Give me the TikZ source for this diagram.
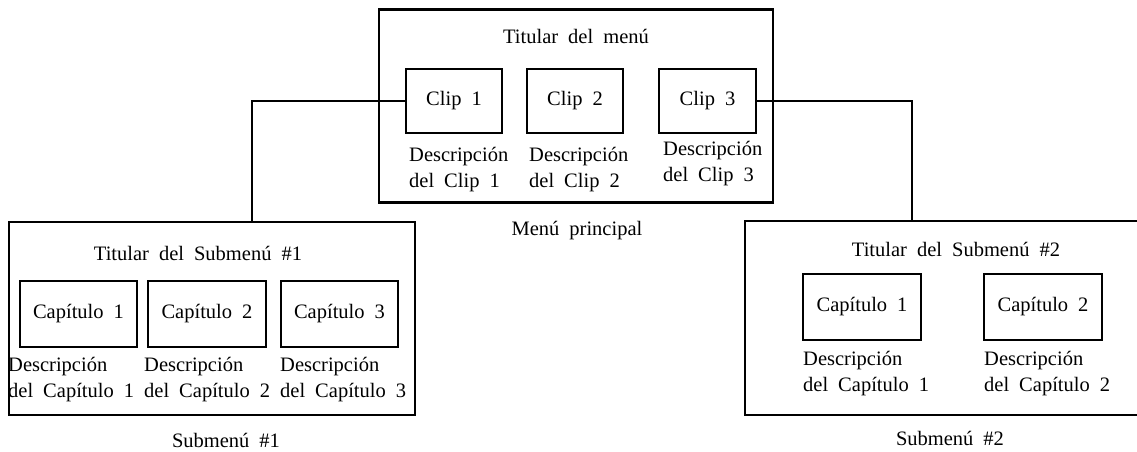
\documentclass[tikz,border=0pt]{standalone}
\usepackage{fontspec}
\setmainfont{Liberation Serif}
\newcommand{\diagfont}{\fontsize{20.5}{26}\selectfont\spaceskip=10pt plus 2pt minus 1pt\relax}
\begin{document}
\begin{tikzpicture}[x=1pt,y=-1pt,
  box/.style={draw=black,line width=2.8pt,inner sep=0pt},
  txt/.style={inner sep=0pt,font=\diagfont},
  desc/.style={txt,align=left,anchor=west},
  conn/.style={draw=black,line width=2.8pt}]
\useasboundingbox (0,0) rectangle (1137,451);
\fill[white] (0,0) rectangle (1137,451);
% main menu
\node[box,minimum width=394pt,minimum height=193pt] (main) at (576,105.7) {};
\node[txt] (mtitle) at (576,36) {Titular del menú};
\node[box,minimum width=96pt,minimum height=64pt,txt] (clip1) at (454,101) {Clip 1};
\node[box,minimum width=96pt,minimum height=64pt,txt] (clip2) at (575,101) {Clip 2};
\node[box,minimum width=97pt,minimum height=64pt,txt] (clip3) at (707.5,101) {Clip 3};
\node[desc] (d1) at (409,170) {Descripción\\del Clip 1};
\node[desc] (d2) at (529,170) {Descripción\\del Clip 2};
\node[desc] (d3) at (663,164) {Descripción\\del Clip 3};
\node[txt] (mlabel) at (577,231) {Menú principal};
% submenu 1
\node[box,minimum width=406pt,minimum height=193pt] (sub1) at (212,318.5) {};
\node[txt] (s1title) at (198,253) {Titular del Submenú \#1};
\node[box,minimum width=117pt,minimum height=66pt,txt] (c11) at (78.5,314) {Capítulo 1};
\node[box,minimum width=118pt,minimum height=66pt,txt] (c12) at (207,314) {Capítulo 2};
\node[box,minimum width=117pt,minimum height=66pt,txt] (c13) at (339.5,314) {Capítulo 3};
\node[desc] (e11) at (8,380) {Descripción\\del Capítulo 1};
\node[desc] (e12) at (144,380) {Descripción\\del Capítulo 2};
\node[desc] (e13) at (280,380) {Descripción\\del Capítulo 3};
\node[txt] (s1label) at (226,440) {Submenú \#1};
% submenu 2
\node[box,minimum width=395pt,minimum height=194pt] (sub2) at (942.5,318) {};
\node[txt] (s2title) at (956,249) {Titular del Submenú \#2};
\node[box,minimum width=118pt,minimum height=66pt,txt] (c21) at (862,307) {Capítulo 1};
\node[box,minimum width=118pt,minimum height=66pt,txt] (c22) at (1043,307) {Capítulo 2};
\node[desc] (e21) at (803,373.5) {Descripción\\del Capítulo 1};
\node[desc] (e22) at (984,373.5) {Descripción\\del Capítulo 2};
\node[txt] (s2label) at (950,438) {Submenú \#2};
% connectors
\coordinate (k1) at (252,222);
\coordinate (k2) at (912,221);
\draw[conn] (clip1.west) -| (k1);
\draw[conn] (clip3.east) -| (k2);
\end{tikzpicture}
\end{document}
